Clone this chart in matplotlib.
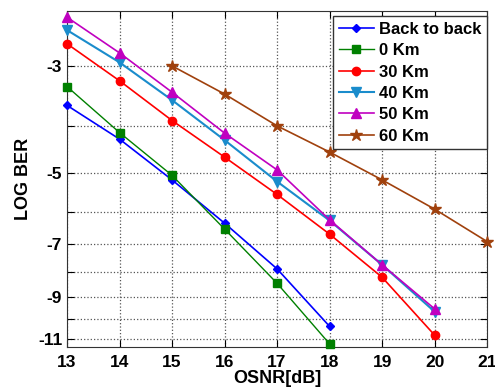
import matplotlib
matplotlib.use("Agg")
import matplotlib.pyplot as plt
import numpy as np
from matplotlib.ticker import FixedLocator, NullFormatter

plt.rcParams['font.family'] = ['Liberation Sans', 'DejaVu Sans']
plt.rcParams['font.weight'] = 'bold'

osnr_short = [13, 14, 15, 16, 17, 18]
osnr_mid = [13, 14, 15, 16, 17, 18, 19, 20]
osnr_60 = [15, 16, 17, 18, 19, 20, 21]

b2b = [-3.62, -4.25, -5.16, -6.34, -7.88, -10.36]
km0 = [-3.31, -4.12, -5.05, -6.52, -8.44, -11.26]
km30 = [-2.70, -3.22, -3.89, -4.63, -5.53, -6.68, -8.20, -10.8]
km40 = [-2.53, -2.95, -3.53, -4.27, -5.20, -6.26, -7.73, -9.66]
km50 = [-2.38, -2.82, -3.40, -4.13, -4.92, -6.24, -7.73, -9.53]
km60 = [-3.00, -3.43, -3.99, -4.52, -5.16, -5.93, -6.92]

labels = ['Back to back', '0 Km', '30 Km', '40 Km', '50 Km', '60 Km']
major_ticks = [-3, -5, -7, -9, -11]
minor_ticks = [-4, -6, -8, -10]
x_ticks = [13, 14, 15, 16, 17, 18, 19, 20, 21]

fig = plt.figure(figsize=(4.95, 3.91), dpi=100)
ax = fig.add_axes([0.1354, 0.1125, 0.984 - 0.1354, 0.9719 - 0.1125])

series = [
    (osnr_short, b2b, '#0000ff', 'D', 4.5, 1.2),
    (osnr_short, km0, '#008000', 's', 6, 1.0),
    (osnr_mid, km30, '#ff0000', 'o', 6, 1.2),
    (osnr_mid, km40, '#1a8ccc', 'v', 7, 1.5),
    (osnr_mid, km50, '#c000c0', '^', 7, 1.2),
    (osnr_60, km60, '#a0410d', '*', 9, 1.2),
]
for (x, y, c, m, ms, lw), lab in zip(series, labels):
    ax.plot(x, -np.array(y), color=c, marker=m, markersize=ms, linewidth=lw,
            label=lab, clip_on=False, zorder=3)

ax.set_yscale('log')
ax.set_ylim(11.43, 2.31)
ax.set_xlim(13, 21)
ax.yaxis.set_major_locator(FixedLocator([-v for v in major_ticks]))
ax.yaxis.set_minor_locator(FixedLocator([-v for v in minor_ticks]))
ax.yaxis.set_minor_formatter(NullFormatter())
ax.set_yticklabels([str(v) for v in major_ticks])
ax.set_xticks(x_ticks)
ax.set_xticklabels([str(v) for v in x_ticks])

ax.grid(True, which='both', linestyle=':', color='#555555', linewidth=0.9)
ax.tick_params(which='both', direction='in', top=True, right=True, length=5,
               labelsize=12.5, width=0.8)
ax.tick_params(axis='x', pad=6)
for t in ax.get_xticklabels() + ax.get_yticklabels():
    t.set_fontweight('bold')
for s in ax.spines.values():
    s.set_color('#333333')

ax.set_xlabel('OSNR[dB]', fontsize=13, fontweight='bold', labelpad=0)
ax.set_ylabel('LOG BER', fontsize=13, fontweight='bold', labelpad=4)

leg = ax.legend(loc='upper right', bbox_to_anchor=(1.0, 0.985),
                prop={'weight': 'bold', 'size': 12}, fancybox=False,
                edgecolor='#333333', framealpha=1, borderaxespad=0.0,
                handlelength=2.1, handletextpad=0.3, labelspacing=0.38,
                borderpad=0.35)
leg.get_frame().set_linewidth(1.0)

fig.savefig('out.png', dpi=100)
